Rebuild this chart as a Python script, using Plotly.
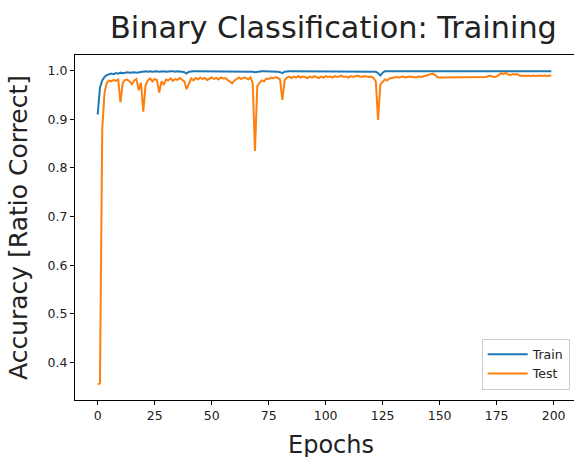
import plotly.graph_objects as go

epochs = list(range(200))

train_acc = (
    [0.910, 0.965, 0.980, 0.987, 0.991, 0.992, 0.994, 0.993, 0.995, 0.994,
     0.996, 0.995, 0.996, 0.997, 0.996, 0.997, 0.997, 0.996, 0.997, 0.998,
     0.998, 0.999, 0.998, 0.999, 0.998, 0.999, 0.999, 0.998, 0.999, 0.999,
     0.998, 0.999, 0.999, 0.999, 0.998, 0.999, 0.999, 0.998, 0.997, 0.994,
     0.998, 0.999, 0.999, 0.999, 0.999, 0.999, 0.999, 0.999, 0.999, 0.999,
     0.999, 0.999, 0.999, 0.999, 0.999, 0.999, 0.999, 0.999, 0.999, 0.999,
     0.999, 0.999, 0.999, 0.999, 0.999, 0.999, 0.999, 0.999, 0.998, 0.997,
     0.998, 0.999, 0.999, 0.999, 0.999, 0.999, 0.999, 0.999, 0.999, 0.998,
     0.997, 0.995, 0.998, 0.999, 0.999, 0.999, 0.999, 0.999, 0.999, 0.999,
     0.999, 0.999, 0.999, 0.999, 0.999, 0.999, 0.999, 0.999, 0.999, 0.999,
     0.999, 0.999, 0.999, 0.999, 0.999, 0.999, 0.999, 0.999, 0.999, 0.999,
     0.999, 0.999, 0.999, 0.999, 0.999, 0.999, 0.999, 0.999, 0.999, 0.999,
     0.999, 0.999, 0.998, 0.995, 0.990, 0.996, 0.999, 0.999, 0.999, 0.999,
     0.999, 0.999, 0.999, 0.999, 0.999, 0.999, 0.999, 0.999, 0.999, 0.999,
     0.999, 0.999, 0.999, 0.999, 0.999, 0.999, 0.999, 0.999, 0.999, 0.999,
     0.999, 0.999, 0.999, 0.999, 0.999, 0.999, 0.999, 0.999, 0.999, 0.999,
     0.999, 0.999, 0.999, 0.999, 0.999, 0.999, 0.999, 0.999, 0.999, 0.999,
     0.999, 0.999, 0.999, 0.999, 0.999, 0.999, 0.999, 0.999, 0.999, 0.999,
     0.999, 0.999, 0.999, 0.999, 0.999, 0.999, 0.999, 0.999, 0.999, 0.999,
     0.999, 0.999, 0.999, 0.999, 0.999, 0.999, 0.999, 0.999, 0.999, 0.999]
)

test_acc = (
    [0.355, 0.357, 0.880, 0.955, 0.975, 0.980, 0.978, 0.981, 0.979, 0.982,
     0.935, 0.975, 0.981, 0.982, 0.978, 0.972, 0.980, 0.983, 0.960, 0.975,
     0.916, 0.970, 0.980, 0.984, 0.978, 0.983, 0.981, 0.955, 0.978, 0.972,
     0.982, 0.980, 0.984, 0.979, 0.983, 0.981, 0.985, 0.982, 0.978, 0.962,
     0.975, 0.984, 0.980, 0.985, 0.982, 0.986, 0.983, 0.985, 0.981, 0.984,
     0.986, 0.983, 0.985, 0.982, 0.986, 0.984, 0.985, 0.981, 0.977, 0.974,
     0.980, 0.984, 0.986, 0.983, 0.986, 0.985, 0.982, 0.986, 0.975, 0.835,
     0.968, 0.975, 0.980, 0.978, 0.984, 0.983, 0.986, 0.984, 0.987, 0.985,
     0.982, 0.940, 0.980, 0.986, 0.988, 0.985, 0.988, 0.986, 0.989, 0.986,
     0.988, 0.987, 0.985, 0.988, 0.986, 0.989, 0.987, 0.985, 0.988, 0.986,
     0.989, 0.987, 0.988, 0.986, 0.989, 0.987, 0.988, 0.990, 0.987, 0.988,
     0.986, 0.989, 0.987, 0.988, 0.990, 0.988, 0.987, 0.989, 0.988, 0.987,
     0.988, 0.985, 0.978, 0.899, 0.972, 0.978, 0.982, 0.980, 0.984, 0.985,
     0.986, 0.987, 0.986, 0.987, 0.988, 0.986, 0.987, 0.988, 0.987, 0.986,
     0.987, 0.988, 0.987, 0.988, 0.989, 0.991, 0.993, 0.994, 0.991, 0.987,
     0.986, 0.986, 0.987, 0.986, 0.986, 0.987, 0.986, 0.986, 0.987, 0.986,
     0.986, 0.987, 0.986, 0.986, 0.987, 0.986, 0.987, 0.986, 0.986, 0.987,
     0.987, 0.988, 0.990, 0.988, 0.987, 0.988, 0.992, 0.995, 0.993, 0.996,
     0.992, 0.991, 0.993, 0.992, 0.993, 0.990, 0.989, 0.990, 0.989, 0.990,
     0.989, 0.990, 0.989, 0.990, 0.990, 0.989, 0.990, 0.989, 0.990, 0.990]
)

series_names = ["Train", "Test"]
series_colors = ["#1f77b4", "#ff7f0e"]
x_ticks = [0, 25, 50, 75, 100, 125, 150, 175, 200]
y_ticks = [0.4, 0.5, 0.6, 0.7, 0.8, 0.9, 1.0]

title_text = "Binary Classification: Training"
x_label = "Epochs"
y_label = "Accuracy [Ratio Correct]"

FONT = "DejaVu Sans, sans-serif"

fig = go.Figure()
for name, vals, col in zip(series_names, [train_acc, test_acc], series_colors):
    fig.add_trace(go.Scatter(x=epochs, y=vals, mode="lines", name=name,
                             line=dict(color=col, width=2)))

axis_common = dict(showline=True, linecolor="black", linewidth=1, mirror=True,
                   ticks="outside", ticklen=4, tickcolor="black", tickwidth=1,
                   showgrid=False, zeroline=False,
                   tickfont=dict(family=FONT, size=12.5, color="#222"))

fig.update_layout(
    width=574, height=457,
    margin=dict(l=75, r=0, t=55, b=57),
    paper_bgcolor="white", plot_bgcolor="white",
    showlegend=True,
    legend=dict(x=0.815, y=0.03, xanchor="left", yanchor="bottom",
                itemwidth=40,
                bgcolor="rgba(255,255,255,0.8)", bordercolor="#cccccc", borderwidth=1,
                font=dict(family=FONT, size=12.5, color="#222")),
    xaxis=dict(range=[-9.95, 208.95], tickvals=x_ticks, **axis_common),
    yaxis=dict(range=[0.3228, 1.0323], tickvals=y_ticks, tickformat=".1f", **axis_common),
    annotations=[
        dict(text=title_text, xref="paper", yref="paper", x=0.518, y=1.0,
             xanchor="center", yanchor="bottom", yshift=8, showarrow=False,
             font=dict(family=FONT, size=30.3, color="#222")),
        dict(text=x_label, xref="paper", yref="paper", x=0.513, y=0.0,
             xanchor="center", yanchor="top", yshift=-29, showarrow=False,
             font=dict(family=FONT, size=24, color="#222")),
        dict(text=y_label, xref="paper", yref="paper", x=0.0, y=0.5,
             xanchor="right", yanchor="middle", xshift=-40, textangle=-90,
             showarrow=False, font=dict(family=FONT, size=25, color="#222")),
    ],
)

fig.write_html("out.html")
